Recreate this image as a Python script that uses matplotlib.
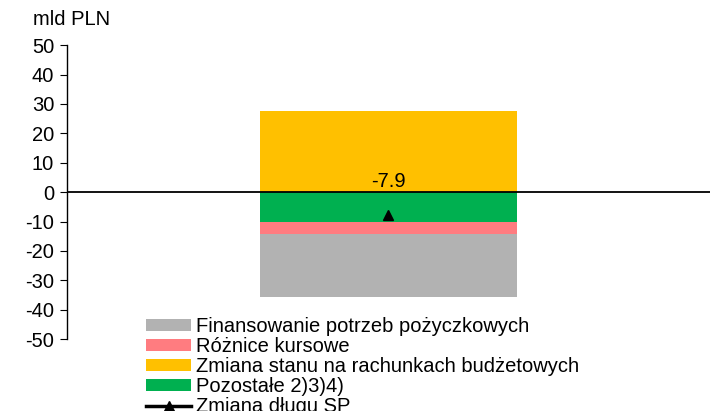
import matplotlib
matplotlib.use('Agg')
import matplotlib.pyplot as plt
import numpy as np

plt.rcParams['font.family'] = ['Liberation Sans', 'DejaVu Sans']
plt.rcParams['axes.unicode_minus'] = False

categories = [""]
labels = ["Finansowanie potrzeb pożyczkowych", "Różnice kursowe",
          "Zmiana stanu na rachunkach budżetowych", "Pozostałe 2)3)4)"]
values = [-21.3, -4.1, 27.6, -10.2]
colors = ["#B2B2B2", "#FF7C80", "#FFC000", "#00B050"]
debt_label = "Zmiana długu SP"
debt_change = [-7.9]

fig = plt.figure(figsize=(7.10, 4.11), dpi=100)
ax = fig.add_axes([0.094, 0.175, 0.906, 0.715])

x = np.arange(len(categories))
# stacking order away from zero: green, pink, gray below; orange above
stack_order = [3, 1, 0, 2]
pos_bottom = 0.0
neg_bottom = 0.0
bars = {}
for i in stack_order:
    v = values[i]
    if v >= 0:
        bars[i] = ax.bar(x, [v], 0.4, bottom=pos_bottom, color=colors[i], label=labels[i])
        pos_bottom += v
    else:
        bars[i] = ax.bar(x, [v], 0.4, bottom=neg_bottom, color=colors[i], label=labels[i])
        neg_bottom += v

ax.plot(x, debt_change, color='black', marker='^', markersize=7,
        linestyle='none', label=debt_label)
for xi, d in zip(x, debt_change):
    ax.text(xi, 0.4, f"{d:.1f}", ha='center', va='bottom', fontsize=14.5)

ax.axhline(0, color='black', lw=1.3)
ax.set_xlim(-0.5, 0.5)
ax.set_ylim(-50, 50)
ax.set_yticks(np.arange(-50, 51, 10))
ax.set_xticks([])
ax.tick_params(axis='y', direction='out', length=5, labelsize=14.5, pad=4)
for s in ['top', 'right', 'bottom']:
    ax.spines[s].set_visible(False)
ax.spines['left'].set_linewidth(1.0)

fig.text(0.046, 0.975, "mld PLN", fontsize=14.5, va='top', ha='left')

legend_line = plt.Line2D([], [], color='black', lw=2.5, marker='^', markersize=7)
handles = [bars[0], bars[1], bars[2], bars[3], legend_line]
leg_labels = labels + [debt_label]
fig.legend(handles, leg_labels, loc='upper left', bbox_to_anchor=(146 / 710, 1 - 317 / 411),
           frameon=False, fontsize=14.5, handlelength=2.25, handleheight=0.5,
           labelspacing=0.05, handletextpad=0.25, borderpad=0.0, borderaxespad=0.0)

fig.savefig("out.png", dpi=100)
